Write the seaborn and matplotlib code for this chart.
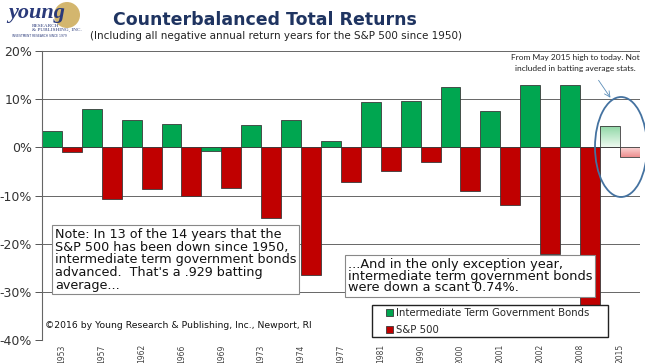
import numpy as np
import pandas as pd
import matplotlib
matplotlib.use("Agg")
import matplotlib.pyplot as plt
import seaborn as sns
from matplotlib.patches import Ellipse, Rectangle

years = ["1953", "1957", "1962", "1966", "1969", "1973", "1974", "1977",
         "1981", "1990", "2000", "2001", "2002", "2008", "2015"]
bonds = [3.3, 8.0, 5.6, 4.8, -0.74, 4.6, 5.7, 1.4, 9.4, 9.7, 12.6, 7.6, 12.9, 13.0, 4.4]
sp500 = [-1.0, -10.8, -8.7, -10.1, -8.5, -14.7, -26.5, -7.2, -4.9, -3.1, -9.1, -11.9, -22.1, -37.0, -2.0]
series_names = ["Intermediate Term Government Bonds", "S&P 500"]
yticks = [-40, -30, -20, -10, 0, 10, 20]

df = pd.DataFrame({
    "year": years * 2,
    "ret": bonds + sp500,
    "series": [series_names[0]] * len(years) + [series_names[1]] * len(years),
})

sns.set_style("white")
plt.rcParams["font.family"] = ["DejaVu Sans"]

fig = plt.figure(figsize=(6.45, 3.63), dpi=100)
ax = fig.add_axes([0.065, 0.0634, 0.927, 0.796])

def fx(px):
    return px / 645

def fy(py):
    return 1 - py / 363

green, red = "#00A650", "#C00000"
sns.barplot(data=df, x="year", y="ret", hue="series", hue_order=series_names,
            palette=[green, red], saturation=1, width=1.0, edgecolor="#3a3a3a",
            linewidth=0.6, ax=ax, legend=True)

ax.set_yticks(yticks)
ax.set_yticklabels([f"{v}%" for v in yticks], fontsize=9, color="#333333")
ax.set_xticks(range(len(years)))
ax.set_xticklabels(years, rotation=90, fontsize=5.5, color="#444444")
ax.tick_params(axis="y", length=5, width=0.7, color="#555555", direction="out", left=True, pad=2)
ax.tick_params(axis="x", length=0, pad=3)
ax.set_xlabel("")
ax.set_ylabel("")
for v in yticks:
    ax.axhline(v, color="#666666", lw=0.7, zorder=0)
for s in ["top", "right", "bottom"]:
    ax.spines[s].set_visible(False)
ax.spines["left"].set_color("#666666")
ax.spines["left"].set_linewidth(0.8)

# 2015 bars: faded gradient fills
bars = ax.patches[:2 * len(years)]
g15 = bars[len(years) - 1]
r15 = bars[2 * len(years) - 1]
for p, top_c, bot_c in [(g15, (0.55, 0.84, 0.64), (0.93, 0.98, 0.94)),
                        (r15, (0.98, 0.84, 0.84), (0.93, 0.56, 0.56))]:
    p.set_facecolor("none")
    x0, y0 = p.get_x(), p.get_y()
    w, h = p.get_width(), p.get_height()
    yb, yt = min(y0, y0 + h), max(y0, y0 + h)
    t = np.linspace(0, 1, 50)
    img = np.zeros((50, 1, 3))
    for k in range(3):
        img[:, 0, k] = bot_c[k] + (top_c[k] - bot_c[k]) * t
    im = ax.imshow(img, extent=[x0, x0 + w, yb, yt], origin="lower",
                   aspect="auto", zorder=0.9)
    im.set_clip_path(p)
ax.set_xlim(-0.5, len(years) - 0.5)
ax.set_ylim(-40, 20)

# legend box covers the bars
ax.add_patch(Rectangle((fx(372), fy(337)), fx(236), 32 / 363, transform=fig.transFigure,
                       fc="white", ec="#222222", lw=1.0, zorder=5, clip_on=False))
leg = ax.legend(loc="upper left", bbox_to_anchor=(fx(386), fy(308)),
                bbox_transform=fig.transFigure, fontsize=7.3, frameon=False,
                handlelength=0.7, handleheight=0.6, handletextpad=0.25,
                labelspacing=0.7, borderpad=0.0, borderaxespad=0.0)
leg.set_zorder(6)

note1 = ("Note: In 13 of the 14 years that the\nS&P 500 has been down since 1950,\n"
         "intermediate term government bonds\nadvanced.  That's a .929 batting\naverage...")
fig.text(fx(55), fy(228), note1, fontsize=9.2, va="top", ha="left",
         linespacing=0.97, color="#111111",
         bbox=dict(boxstyle="square,pad=0.2", fc="white", ec="#888888", lw=0.8))
note2 = ("...And in the only exception year,\nintermediate term government bonds\n"
         "were down a scant 0.74%.")
fig.text(fx(348), fy(258), note2, fontsize=9.3, va="top", ha="left",
         linespacing=0.86, color="#111111",
         bbox=dict(boxstyle="square,pad=0.2", fc="white", ec="#888888", lw=0.8))
fig.text(fx(45), fy(326), "©2016 by Young Research & Publishing, Inc., Newport, RI",
         fontsize=6.7, va="center", ha="left", color="#111111")

fig.text(fx(575), fy(63), "From May 2015 high to today. Not\nincluded in batting average stats.",
         fontsize=6, family="Lato", ha="center", va="center", linespacing=1.6,
         color="#222222")
fig.patches.append(Ellipse((fx(621), fy(147)), fx(52), 100 / 363,
                           transform=fig.transFigure, fill=False,
                           ec="#4472A0", lw=1.3))
ax.annotate("", xy=(fx(612), fy(100)), xytext=(fx(597), fy(78)),
            xycoords="figure fraction", textcoords="figure fraction",
            arrowprops=dict(arrowstyle="->", color="#5B8DB8", lw=0.6))

fig.text(fx(265), fy(20), "Counterbalanced Total Returns", fontsize=12.5,
         fontweight="bold", color="#1F3461", ha="center", va="center")
fig.text(fx(276), fy(36),
         "(Including all negative annual return years for the S&P 500 since 1950)",
         fontsize=7.5, color="#222222", ha="center", va="center")

# logo
fig.patches.append(Ellipse((fx(67), fy(15)), fx(26), 26 / 363,
                           transform=fig.transFigure, fc="#C9A44A", ec="none", alpha=0.8))
fig.text(fx(8), fy(13), "young", fontsize=16, style="italic", fontweight="bold",
         color="#2A3A7A", family="Liberation Serif", va="center", ha="left")
fig.text(fx(32), fy(28), "RESEARCH\n& PUBLISHING, INC.", fontsize=3.8,
         color="#2A3A7A", family="Liberation Serif", va="center", ha="left", linespacing=0.9)
fig.text(fx(12), fy(36), "INVESTMENT RESEARCH SINCE 1979", fontsize=2.2,
         color="#2A3A7A", va="center", ha="left")

fig.savefig("out.png", dpi=100)
